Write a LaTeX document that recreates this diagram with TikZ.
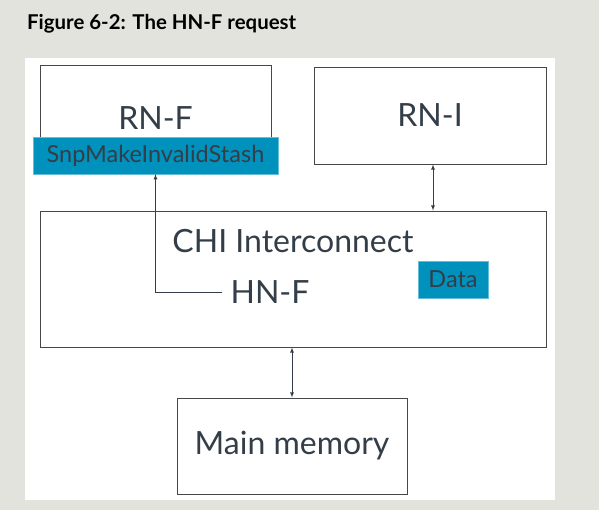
\documentclass[tikz,border=0pt]{standalone}
\usepackage{fontspec}
\setmainfont{Lato}
\usepackage{tikz}
\usetikzlibrary{arrows}
\definecolor{pagegrey}{RGB}{227,227,221}
\definecolor{armblue}{RGB}{0,145,189}
\definecolor{inkgrey}{RGB}{51,62,72}
\definecolor{linegrey}{RGB}{70,70,70}
\tikzstyle{graph}=[x=1pt, y=-1pt, font=\fontsize{32}{36}\selectfont, text=inkgrey]
\tikzstyle{box}=[rectangle, draw=linegrey, line width=0.9pt, fill=white, inner sep=0pt]
\tikzstyle{msg}=[rectangle, fill=armblue, draw=armblue!60, inner sep=0pt, font=\fontsize{23.5}{27}\selectfont]
\tikzstyle{lbl}=[inner sep=1pt]
\tikzstyle{edge}=[draw=inkgrey, line width=0.8pt, -latex]
\tikzstyle{biedge}=[draw=inkgrey, line width=0.8pt, latex-latex]

\begin{document}
\begin{tikzpicture}[graph]
	\fill[pagegrey] (0,0) rectangle (599,510);
	\fill[white] (25,58) rectangle (555,500);
	\draw (27,24) node[anchor=west, inner sep=0pt, text=black, font=\fontsize{20.4}{24}\selectfont\bfseries] (title) {Figure 6-2: The HN-F request};
	\draw (155.5,118) node[box, minimum width=231pt, minimum height=106pt] (rnf) {RN-F};
	\draw (155.5,155.5) node[msg, minimum width=245pt, minimum height=37pt] (stash) {SnpMakeInvalidStash};
	\draw (430,115.5) node[box, minimum width=232pt, minimum height=97pt] (rni) {RN-I};
	\draw (293,279) node[box, minimum width=506pt, minimum height=136pt] (chi) {};
	\draw (293,241) node[lbl] (chitext) {CHI Interconnect};
	\draw (270,292) node[lbl, inner sep=8pt] (hnf) {HN-F};
	\draw (453,279.5) node[msg, minimum width=70pt, minimum height=37pt] (data) {Data};
	\draw (292,446) node[box, minimum width=230pt, minimum height=96pt] (mem) {Main memory};
	\draw[biedge] ([xshift=3pt]rni.south) -- ([xshift=3pt]rni.south |- chi.north);
	\draw[biedge] (mem.north |- chi.south) -- (mem.north);
	\draw[edge] (hnf.west) -| (stash.south);
\end{tikzpicture}
\end{document}
